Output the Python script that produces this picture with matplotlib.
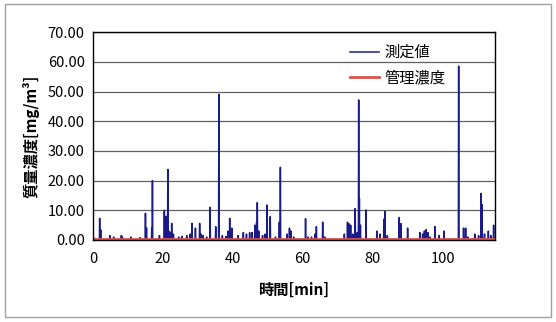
import numpy as np
import matplotlib.pyplot as plt
from matplotlib.patches import Rectangle

plt.rcParams['font.family'] = ['Noto Sans CJK JP', 'DejaVu Sans']

# 測定値のピーク（時間[min], 濃度[mg/m3]）
peak_t = [0.5, 1.9, 2.2, 4.8, 5.9, 8.1, 8.4, 10.8, 13.5, 15.0, 15.3, 16.8, 17.0,
          19.0, 20.4, 20.9, 21.4, 21.7, 22.1, 22.5, 23.0, 24.5, 25.5, 26.8,
          27.8, 28.3, 29.3, 30.5, 30.9, 31.5, 32.5, 33.5, 35.1, 36.0, 37.0,
          38.0, 38.6, 39.1, 39.7, 41.5, 43.0, 43.9, 44.8, 45.5, 46.3, 46.8,
          47.0, 47.4, 48.5, 49.2, 49.8, 50.7, 52.2, 53.3, 53.6, 55.5, 56.2,
          56.6, 57.4, 60.8, 61.5, 62.5, 63.5, 63.9, 65.7, 66.3, 71.9, 72.8,
          73.2, 73.7, 74.3, 75.0, 75.6, 76.0, 76.2, 76.5, 78.1, 81.2, 82.1,
          83.2, 83.5, 84.2, 87.6, 88.1, 90.0, 93.5, 94.3, 94.8, 95.3, 95.8,
          96.4, 97.8, 99.0, 100.4, 104.6, 106.0, 106.6, 107.2, 109.2, 110.3,
          111.0, 111.3, 112.0, 113.1, 113.8, 114.6]
peak_v = [0.6, 7.3, 3.4, 1.5, 1.0, 1.5, 1.0, 1.0, 0.8, 9.0, 4.0, 4.0, 20.0,
          1.5, 10.0, 8.0, 23.8, 3.0, 2.5, 5.6, 2.0, 1.0, 1.2, 1.5,
          2.0, 5.6, 4.0, 5.6, 2.0, 1.5, 1.0, 11.0, 4.5, 49.1, 1.5,
          1.2, 3.0, 7.3, 4.0, 1.5, 2.5, 2.0, 2.5, 2.5, 5.0, 6.0,
          12.6, 3.0, 1.5, 2.0, 11.8, 7.9, 1.0, 6.0, 24.5, 2.0, 4.0,
          3.0, 1.0, 7.2, 1.0, 1.0, 2.0, 4.5, 6.0, 1.0, 2.0, 6.0,
          5.5, 5.0, 2.0, 10.6, 2.5, 47.2, 14.0, 5.0, 10.1, 3.0, 2.0,
          7.0, 9.7, 1.5, 7.6, 5.5, 4.0, 2.5, 2.0, 3.0, 3.5, 2.5,
          1.0, 4.5, 1.5, 3.0, 58.6, 4.0, 4.0, 1.0, 2.0, 1.5,
          15.7, 12.0, 2.0, 3.0, 1.5, 5.0]

kanri = 0.3  # 管理濃度[mg/m3]
x_end = 115

# スパイク状の線に並べる
t = [0.0]
v = [0.0]
for pt, pv in zip(peak_t, peak_v):
    t += [pt - 0.08, pt, pt + 0.08]
    v += [0.0, pv, 0.0]
t.append(x_end)
v.append(0.0)

fig = plt.figure(figsize=(5.56, 3.22), dpi=100)
fig.patches.append(Rectangle((0.009, 0.015), 0.982, 0.972, transform=fig.transFigure,
                             fill=False, ec='#a0a0a0', lw=1))
ax = fig.add_axes([0.1673, 0.2547, 0.723, 0.645])

ax.plot(t, v, color='#1a1a8a', lw=1.1, label='測定値')
ax.plot([0, x_end], [kanri, kanri], color='#d9534f', lw=2.0, label='管理濃度')

ax.set_xlim(0, x_end)
ax.set_ylim(0, 70)
ax.set_xticks(range(0, 101, 20))
ax.set_yticks(range(0, 71, 10))
ax.set_yticklabels(['%.2f' % y for y in range(0, 71, 10)])
ax.tick_params(length=0, labelsize=10.5)
ax.tick_params(axis='x', pad=9)
ax.tick_params(axis='y', pad=6)
ax.yaxis.grid(True, color='#606060', lw=0.9)
ax.set_axisbelow(True)
for s in ax.spines.values():
    s.set_color('black')
    s.set_linewidth(1.0)

ax.set_xlabel('時間[min]', fontsize=11, fontweight='bold', labelpad=11)
ax.set_ylabel('質量濃度[mg/m³]', fontsize=11, fontweight='bold', labelpad=6)

leg = ax.legend(loc='upper right', frameon=False, fontsize=11, handlelength=1.9,
                handletextpad=0.3, labelspacing=0.55, bbox_to_anchor=(0.91, 1.01))

fig.savefig('out.png', dpi=100)
